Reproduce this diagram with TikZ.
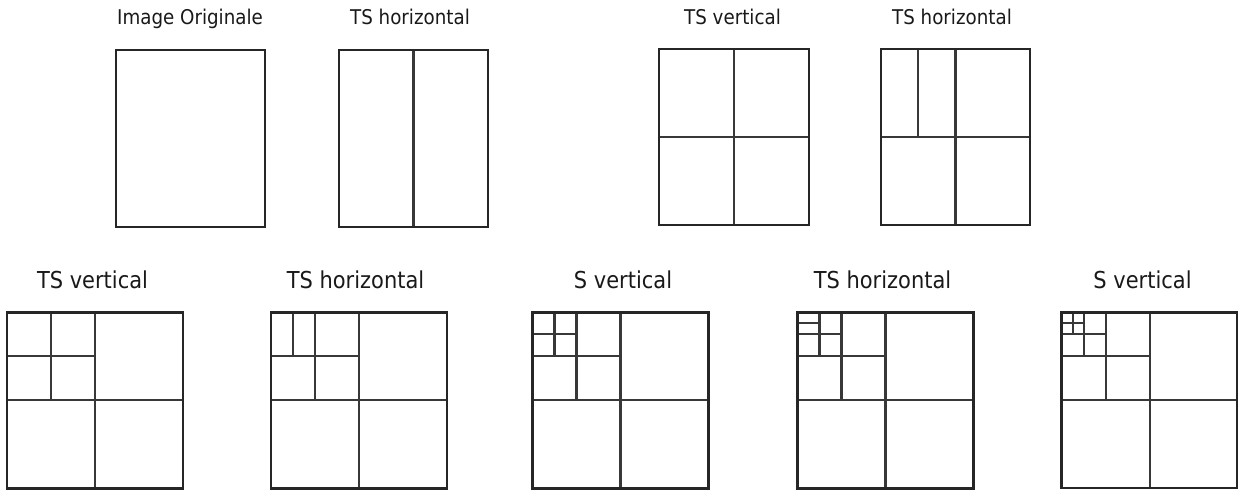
\documentclass[tikz,border=0pt]{standalone}
\usepackage{fontspec}
\newfontfamily\lblfont[FakeStretch=0.9]{DejaVu Sans}
\begin{document}
\begin{tikzpicture}[x=1pt,y=-1pt,
  outer/.style={line width=2.8pt,draw=black!85},
  inner/.style={line width=2.2pt,draw=black!78},
  lbltop/.style={anchor=base,inner sep=0pt,text=black!90,font=\lblfont\fontsize{20.3}{24}\selectfont},
  lblbot/.style={anchor=base,inner sep=0pt,text=black!90,font=\lblfont\fontsize{23.3}{27}\selectfont}]
\useasboundingbox (0,0) rectangle (1238,491);

% ---- top row ----
\node[lbltop] (t1) at (190,24.5) {Image Originale};
\node[lbltop] (t2) at (410,24.5) {TS horizontal};
\node[lbltop] (t3) at (732.5,24.5) {TS vertical};
\node[lbltop] (t4) at (952,24.5) {TS horizontal};

\draw[outer] (116,50) rectangle (265,227);

\draw[inner] (413.5,50) -- (413.5,227);
\draw[outer] (339,50) rectangle (488,227);

\draw[inner] (734,49) -- (734,225);
\draw[inner] (659,137) -- (809,137);
\draw[outer] (659,49) rectangle (809,225);

\draw[inner] (955.5,49) -- (955.5,225);
\draw[inner] (881,137) -- (1030,137);
\draw[inner] (918,49) -- (918,137);
\draw[outer] (881,49) rectangle (1030,225);

% ---- bottom row ----
\node[lblbot] (b1) at (92.5,288) {TS vertical};
\node[lblbot] (b2) at (355.5,288) {TS horizontal};
\node[lblbot] (b3) at (623,288) {S vertical};
\node[lblbot] (b4) at (882.5,288) {TS horizontal};
\node[lblbot] (b5) at (1142.5,288) {S vertical};

% box 1
\begin{scope}[shift={(7,312.3)}]
\draw[inner] (88,0) -- (88,176) (0,88) -- (176,88);
\draw[inner] (44,0) -- (44,88) (0,44) -- (88,44);
\draw[outer] (0,0) rectangle (176,176);
\end{scope}
% box 2
\begin{scope}[shift={(271,312.3)}]
\draw[inner] (88,0) -- (88,176) (0,88) -- (176,88);
\draw[inner] (44,0) -- (44,88) (0,44) -- (88,44);
\draw[inner] (22,0) -- (22,44);
\draw[outer] (0,0) rectangle (176,176);
\end{scope}
% box 3
\begin{scope}[shift={(532.5,312.3)}]
\draw[inner] (88,0) -- (88,176) (0,88) -- (176,88);
\draw[inner] (44,0) -- (44,88) (0,44) -- (88,44);
\draw[inner] (22,0) -- (22,44) (0,22) -- (44,22);
\draw[outer] (0,0) rectangle (176,176);
\end{scope}
% box 4
\begin{scope}[shift={(797.5,312.3)}]
\draw[inner] (88,0) -- (88,176) (0,88) -- (176,88);
\draw[inner] (44,0) -- (44,88) (0,44) -- (88,44);
\draw[inner] (22,0) -- (22,44) (0,22) -- (44,22);
\draw[inner] (0,11) -- (22,11);
\draw[outer] (0,0) rectangle (176,176);
\end{scope}
% box 5
\begin{scope}[shift={(1061.7,312.3)}]
\draw[inner] (88,0) -- (88,176) (0,88) -- (176,88);
\draw[inner] (44,0) -- (44,88) (0,44) -- (88,44);
\draw[inner] (22,0) -- (22,44) (0,22) -- (44,22);
\draw[inner] (11,0) -- (11,22) (0,11) -- (22,11);
\draw[outer] (0,0) rectangle (175.3,175.6);
\end{scope}
\end{tikzpicture}
\end{document}
